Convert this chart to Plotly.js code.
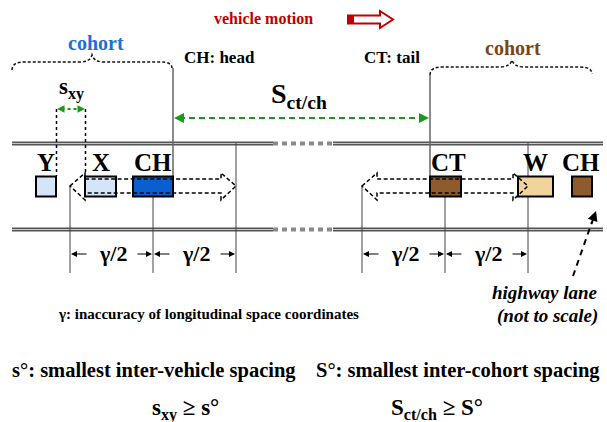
<!DOCTYPE html>
<html>
<head>
<meta charset="utf-8">
<script src="https://cdn.plot.ly/plotly-3.0.1.min.js"></script>
<style>html,body{margin:0;padding:0;background:#fff}#chart{width:607px;height:422px}</style>
</head>
<body>
<div id="chart"></div>
<script>
// ---- diagram content (longitudinal positions in diagram units) ----
const vehicleLabels = ['Y', 'X', 'CH', 'CT', 'W', 'CH'];
const vehicleStart  = [36, 85, 133, 430, 518, 572];
const vehicleEnd    = [56, 116, 173, 461, 553, 592];
const vehicleFill   = ['#d5e5f8', '#d5e5f8', '#0a5fd0', '#8f5b2c', '#f1d49c', '#8f5b2c'];

// position uncertainty zones: [left tip, centre, right tip]
const zoneLeft   = [70, 153, 236];
const zoneRight  = [362, 445, 528];

const headPos = 173;   // cohort head (CH)
const tailPos = 430;   // cohort tail (CT)
const sxyFrom = 56.5, sxyTo = 85.5;

const roadLeft  = [12, 273];
const roadGap   = [273, 333];
const roadRight = [333, 603];

const gammaLabel = 'γ/2';

const F = 'Liberation Serif, Times New Roman, serif';
const shapes = [];
const ann = [];
function line(x0, y0, x1, y1, color, width, dash, extra) {
  shapes.push(Object.assign({type: 'line', xref: 'x', yref: 'y', x0, y0, x1, y1,
    line: {color, width, dash: dash || 'solid'}}, extra || {}));
}
function txt(x, y, text, size, color, opts) {
  ann.push(Object.assign({x, y, xref: 'x', yref: 'y', text, showarrow: false,
    xanchor: 'center', yanchor: 'middle',
    font: {family: F, size, color: color || '#000', weight: 'bold'}}, opts || {}));
}
function head(x, y, ax, ay, color, width, size) {
  ann.push({x, y, ax, ay, xref: 'x', yref: 'y', axref: 'x', ayref: 'y', text: '',
    showarrow: true, arrowhead: 2, arrowsize: size || 1, arrowwidth: width || 1,
    arrowcolor: color || '#000'});
}

// ---- road ----
[143.5, 229.5].forEach(y => {
  [roadLeft, roadRight].forEach(seg => {
    line(seg[0], y, seg[1], y, '#555', 4);
    line(seg[0], y, seg[1], y, '#c8c8c8', 1);
  });
  line(roadGap[0], y, roadGap[1], y, '#8a8a8a', 4, '5px,4px');
});

// ---- head / tail reference lines and braces ----
line(headPos, 68, headPos, 176, '#666', 1.5);
line(tailPos, 75, tailPos, 176, '#666', 1.5);
shapes.push({type: 'path', xref: 'x', yref: 'y',
  path: 'M 12 70 Q 12 62 24 62 L 80 62 Q 90 62 92 55 Q 94 62 104 62 L 160 62 Q 172 62 172 68',
  line: {color: '#111', width: 1.5, dash: '3px,2px'}});
shapes.push({type: 'path', xref: 'x', yref: 'y',
  path: 'M 430 75 Q 430 67 442 67 L 500 67 Q 510 67 512 60 Q 514 67 524 67 L 580 67 Q 592 67 592 74',
  line: {color: '#111', width: 1.5, dash: '3px,2px'}});

// S ct/ch green dashed arrow
line(headPos + 6, 118, tailPos - 6, 118, '#1a9a1a', 2, '6px,4px');
head(headPos + 1, 118, headPos + 9, 118, '#1a9a1a', 2, 1);
head(tailPos - 1, 118, tailPos - 9, 118, '#1a9a1a', 2, 1);

// s_xy dotted
line(sxyFrom, 109, sxyFrom, 176, '#000', 1.5, 'dot');
line(sxyTo, 109, sxyTo, 174, '#000', 1.5, 'dot');
line(sxyFrom + 5, 109, sxyTo - 5, 109, '#1a9a1a', 2, 'dot');
head(sxyFrom + 0.5, 109, sxyFrom + 7, 109, '#1a9a1a', 1.5, 1);
head(sxyTo - 0.5, 109, sxyTo - 7, 109, '#1a9a1a', 1.5, 1);

// ---- dimension lines ----
[zoneLeft, zoneRight].forEach(z => {
  line(z[0], 186, z[0], 273, '#444', 1);
  line(z[1], 186, z[1], 273, '#444', 1);
  line(z[2], 143, z[2], 273, '#444', 1);
  for (let k = 0; k < 2; k++) {
    const a = z[k], b = z[k + 1], mid = (a + b) / 2;
    head(a + 1, 254, a + 18, 254, '#000', 1, 1.2);
    head(b - 1, 254, b - 17, 254, '#000', 1, 1.2);
    txt(mid + 1, 253, gammaLabel, 22);
  }
});

// ---- vehicles ----
vehicleLabels.forEach((lab, i) => {
  shapes.push({type: 'rect', xref: 'x', yref: 'y', x0: vehicleStart[i], x1: vehicleEnd[i],
    y0: 176.5, y1: 196.5, fillcolor: vehicleFill[i], line: {color: '#000', width: 2}});
  txt((vehicleStart[i] + vehicleEnd[i]) / 2 + (i === 3 ? 3 : 0) + (i === 5 ? -1 : 0), 162, lab, 25);
});

// hollow dashed uncertainty arrows
[zoneLeft, zoneRight].forEach(z => {
  const L = z[0], R = z[2], hl = 15;
  shapes.push({type: 'path', xref: 'x', yref: 'y',
    path: `M ${L} 186 L ${L + hl} 173 L ${L + hl} 179 L ${R - hl} 179 L ${R - hl} 173 L ${R} 186 L ${R - hl} 200 L ${R - hl} 193 L ${L + hl} 193 L ${L + hl} 200 Z`,
    line: {color: '#000', width: 1.5, dash: '4px,2.5px'}});
});

// ---- vehicle motion arrow ----
shapes.push({type: 'path', xref: 'x', yref: 'y',
  path: 'M 348 15.5 L 380 15.5 L 380 11 L 393 19.5 L 380 28 L 380 23.5 L 348 23.5 Z',
  fillcolor: '#fff', line: {color: '#c00000', width: 2}});
shapes.push({type: 'rect', xref: 'x', yref: 'y', x0: 347, x1: 354, y0: 15, y1: 24,
  fillcolor: '#c00000', line: {width: 0}});

// highway lane pointer
line(573, 276, 592, 222, '#000', 2, '6px,5px');
head(596, 211, 591, 225, '#000', 2, 1);

// ---- texts ----
txt(263, 18, 'vehicle motion', 16, '#c00000');
txt(96, 43, 'cohort', 20, '#1e6fd4');
txt(513, 48, 'cohort', 20, '#7b4616');
txt(219, 57, 'CH: head', 17);
txt(392, 57, 'CT: tail', 17);
txt(299, 95, 'S<sub>ct/ch</sub>', 28);
txt(71, 88, 's<sub>xy</sub>', 23);
txt(600, 292, 'highway lane', 19, '#000', {xanchor: 'right',
  font: {family: F, size: 19, color: '#000', weight: 'bold', style: 'italic'}});
txt(600, 316, '(not to scale)', 19, '#000', {xanchor: 'right',
  font: {family: F, size: 19, color: '#000', weight: 'bold', style: 'italic'}});
txt(208, 314, 'γ: inaccuracy of longitudinal space coordinates', 15);
txt(154, 370, 's°: smallest inter-vehicle spacing', 20.5);
txt(458, 370, 'S°: smallest inter-cohort spacing', 20.5);
txt(185, 409, 's<sub>xy</sub> ≥ s°', 23);
txt(437, 409, 'S<sub>ct/ch</sub> ≥ S°', 23);

Plotly.newPlot('chart', [], {
  width: 607, height: 422,
  margin: {l: 0, r: 0, t: 0, b: 0},
  paper_bgcolor: '#fff', plot_bgcolor: '#fff',
  showlegend: false,
  xaxis: {range: [0, 607], visible: false, fixedrange: true},
  yaxis: {range: [422, 0], visible: false, fixedrange: true},
  shapes: shapes,
  annotations: ann
}, {staticPlot: true});
</script>
</body>
</html>
